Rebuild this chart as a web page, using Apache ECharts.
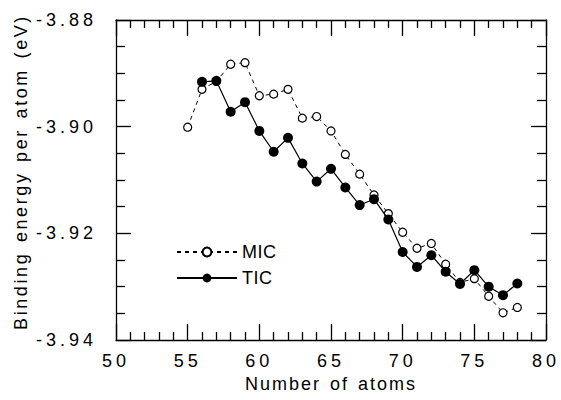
<!DOCTYPE html>
<html><head><meta charset="utf-8">
<script src="https://cdn.jsdelivr.net/npm/echarts@6/dist/echarts.min.js"></script>
<style>html,body{margin:0;padding:0;background:#fff}#c{width:561px;height:400px}</style>
</head><body><div id="c"></div>
<script>
const seriesNames = ['MIC', 'TIC'];
const atomsMIC = [55,56,57,58,59,60,61,62,63,64,65,66,67,68,69,70,71,72,73,74,75,76,77,78];
const energyMIC = [-3.9001,-3.8930,-3.8915,-3.8883,-3.8880,-3.8942,-3.8939,-3.8930,-3.8984,-3.8981,-3.9008,-3.9052,-3.9089,-3.9128,-3.9163,-3.9198,-3.9228,-3.9219,-3.9258,-3.9292,-3.9285,-3.9318,-3.9349,-3.9339];
const atomsTIC = [56,57,58,59,60,61,62,63,64,65,66,67,68,69,70,71,72,73,74,75,76,77,78];
const energyTIC = [-3.8916,-3.8914,-3.8972,-3.8954,-3.9008,-3.9047,-3.9021,-3.9069,-3.9103,-3.9079,-3.9114,-3.9147,-3.9136,-3.9174,-3.9235,-3.9263,-3.9241,-3.9272,-3.9295,-3.9269,-3.9300,-3.9316,-3.9294];
const xMin = 50, xMax = 80, xStep = 5;
const yMin = -3.94, yMax = -3.88, yStep = 0.02;
const xTitle = 'Number of atoms';
const yTitle = 'Binding energy per atom (eV)';

const FONT = 'Liberation Sans';
const chart = echarts.init(document.getElementById('c'), null, {renderer: 'svg'});
const lineBase = {color: '#000', width: 1.3};
function xAx(pos, showLabel) {
  return {
    type: 'value', position: pos, min: xMin, max: xMax, interval: xStep,
    axisLine: {show: true, onZero: false, lineStyle: lineBase},
    axisTick: {show: true, inside: true, length: 16, lineStyle: lineBase},
    minorTick: {show: true, splitNumber: 5, length: 8, lineStyle: lineBase},
    splitLine: {show: false},
    axisLabel: {show: showLabel, color: '#000', fontSize: 18, fontFamily: FONT, margin: 12},
    name: showLabel ? xTitle : '', nameLocation: 'middle', nameGap: 33,
    nameTextStyle: {color: '#000', fontSize: 18, fontFamily: FONT}
  };
}
function yAx(pos, showLabel) {
  return {
    type: 'value', position: pos, min: yMin, max: yMax, interval: yStep,
    axisLine: {show: true, onZero: false, lineStyle: lineBase},
    axisTick: {show: true, inside: true, length: 15, lineStyle: lineBase},
    minorTick: {show: true, splitNumber: 4, length: 9, lineStyle: lineBase},
    splitLine: {show: false},
    axisLabel: {show: showLabel, color: '#000', fontSize: 18, fontFamily: FONT, margin: 19,
      formatter: v => v.toFixed(2)},
    name: showLabel ? yTitle : '', nameLocation: 'middle', nameGap: 86,
    nameTextStyle: {color: '#000', fontSize: 18, fontFamily: FONT, padding: [0, 0, 0, 16]}
  };
}
chart.setOption({
  animation: false,
  backgroundColor: '#fff',
  grid: {left: 116, right: 15, top: 20, bottom: 60},
  xAxis: [xAx('bottom', true), xAx('top', false)],
  yAxis: [yAx('left', true), yAx('right', false)],
  legend: {
    data: seriesNames, orient: 'vertical', left: 171, top: 238,
    itemWidth: 60, itemHeight: 11, itemGap: 8,
    textStyle: {color: '#000', fontSize: 18, fontFamily: FONT},
    inactiveColor: '#000'
  },
  series: [
    {name: seriesNames[0], type: 'line', data: atomsMIC.map((a, i) => [a, energyMIC[i]]),
     symbol: 'circle', symbolSize: 8, showSymbol: true,
     lineStyle: {color: '#000', width: 1, type: [4, 4]},
     itemStyle: {color: '#fff', borderColor: '#000', borderWidth: 1.2}, z: 2},
    {name: seriesNames[1], type: 'line', data: atomsTIC.map((a, i) => [a, energyTIC[i]]),
     symbol: 'circle', symbolSize: 10, showSymbol: true,
     lineStyle: {color: '#000', width: 1.2, type: 'solid'},
     itemStyle: {color: '#000', borderColor: '#000', borderWidth: 0}, z: 3}
  ]
});
function spaceText() {
  document.querySelectorAll('#c text').forEach(t => {
    const s = t.textContent;
    let ls = '0.5px', ws = '0px';
    if (/^-?[\d.]+$/.test(s)) ls = '4px';
    else if (s.indexOf('Number') === 0) { ls = '2px'; ws = '2px'; }
    else if (s.indexOf('Binding') === 0) { ls = '2.6px'; ws = '2px'; }
    t.style.letterSpacing = ls;
    t.style.wordSpacing = ws;
  });
}
chart.on('finished', spaceText);
spaceText();
</script></body></html>
